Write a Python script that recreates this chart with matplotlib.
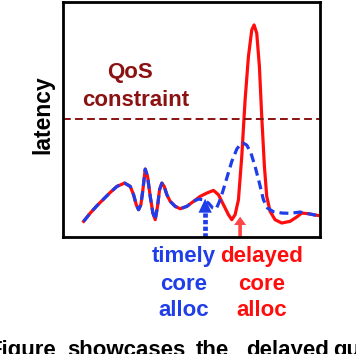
import matplotlib.pyplot as plt

plt.rcParams['font.family'] = ['Liberation Sans', 'DejaVu Sans']
plt.rcParams['font.weight'] = 'bold'

# latency traces (time, latency in arbitrary units)
common_t = [62, 82, 102, 122, 142, 162, 185, 202, 212, 220, 227, 234, 240, 247,
            254, 262, 270, 277, 284, 290, 297, 304, 312, 322, 337, 352, 372, 392]
common_lat = [47, 72, 94, 114, 134, 152, 162, 152, 127, 97, 82, 97, 142, 204,
              182, 122, 72, 52, 92, 142, 162, 152, 127, 107, 92, 85, 92, 107]

delayed_t = [412, 432, 452, 467, 482, 497, 507, 517, 527, 537, 547, 557, 567, 574,
             582, 590, 597, 605, 612, 622, 637, 657, 682, 702, 717, 737, 757, 772]
delayed_lat = [122, 132, 140, 127, 97, 67, 52, 67, 112, 242, 412, 542, 622, 637,
               612, 512, 362, 212, 122, 77, 52, 42, 47, 60, 72, 70, 66, 64]

timely_t = [407, 422, 437, 450, 460, 470, 480, 492, 507, 522, 534, 542, 552, 564,
            577, 590, 602, 614, 632, 657, 682, 712, 737, 757, 772]
timely_lat = [114, 112, 102, 87, 84, 107, 137, 177, 227, 264, 280, 282, 276, 254,
              212, 162, 112, 87, 76, 72, 71, 75, 70, 66, 64]

qos_limit = 354
timely_alloc = (427, 115)
delayed_alloc = (532, 61)

BLUE = '#1f3de8'
RED = '#ff0d0d'
DARKRED = '#8b1212'

fig = plt.figure(figsize=(3.56, 3.54), dpi=100)
ax = fig.add_axes([63 / 356, 117 / 354, 257 / 356, 235 / 354])

ax.plot(common_t + delayed_t, common_lat + delayed_lat, color=RED, lw=2.3,
        solid_joinstyle='round')
ax.plot(common_t + timely_t, common_lat + timely_lat, color=BLUE, lw=2.3,
        ls=(0, (2.8, 1.6)))
ax.axhline(qos_limit, color=DARKRED, lw=1.4, ls=(0, (4, 2.2)))

ax.text(202, 478, 'QoS', color=DARKRED, fontsize=16, ha='center', va='baseline')
ax.text(217, 394, 'constraint', color=DARKRED, fontsize=16, ha='center', va='baseline')

# timely allocation: dotted shaft + head
bx, by = timely_alloc
ax.plot([bx, bx], [0, by - 40], color=BLUE, lw=3.4, ls=(0, (0.9, 0.5)),
        solid_capstyle='butt', dash_capstyle='butt', clip_on=False)
ax.arrow(bx, by - 42, 0, 42, width=0.1, head_width=40, head_length=42,
         length_includes_head=True, color=BLUE, lw=0)
# delayed allocation: solid arrow
rx, ry = delayed_alloc
ax.arrow(rx, 0, 0, ry, width=11, head_width=36, head_length=25,
         length_includes_head=True, color='#ff4646', lw=0)

ax.set_xlim(0, 772)
ax.set_ylim(0, 706)
ax.set_xticks([])
ax.set_yticks([])
for s in ax.spines.values():
    s.set_linewidth(2.0)

fig.text(43 / 356, 1 - 115 / 354, 'latency', rotation=90, fontsize=16.5,
         ha='center', va='center')

for x, col, words in [(184 / 356, BLUE, ['timely', 'core', 'alloc']),
                      (261.5 / 356, RED, ['delayed', 'core', 'alloc'])]:
    for w, yb in zip(words, [262, 289.5, 316.5]):
        fig.text(x, 1 - yb / 354, w, color=col, fontsize=16, ha='center', va='baseline')

# clipped caption underneath
for w, xl in [('Figure', -12), ('showcases', 67), ('the', 196), ('delayed', 246), ('quality', 333)]:
    fig.text(xl / 356, -2 / 354, w, fontsize=16, ha='left', va='baseline', color='black')

fig.savefig('out.png', dpi=100)
